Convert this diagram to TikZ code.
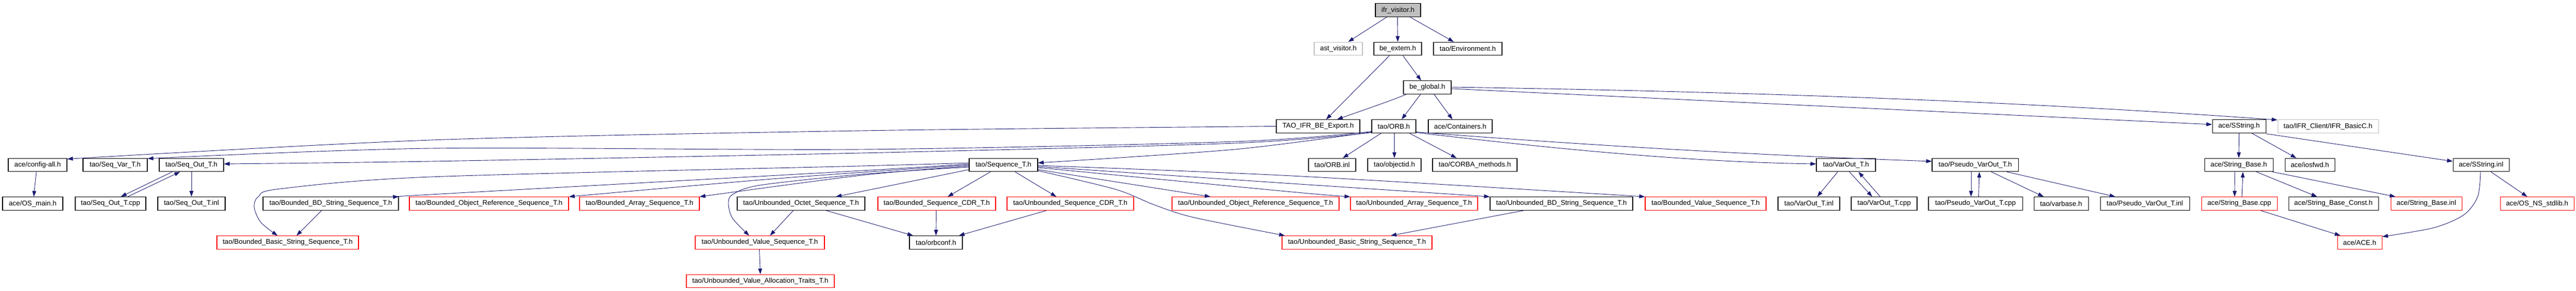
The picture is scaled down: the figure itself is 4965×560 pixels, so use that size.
\documentclass[tikz,border=0pt]{standalone}
\usepackage{fontspec}
\setmainfont{Liberation Sans}
\usetikzlibrary{arrows.meta}
\definecolor{edgecol}{HTML}{191970}
\definecolor{grayb}{HTML}{BFBFBF}
\begin{document}
\begin{tikzpicture}[x=1pt,y=-1pt,
  nd/.style={draw=black, line width=1.1pt, rectangle, minimum height=25.5pt, inner sep=0pt, font=\fontsize{13.33}{16}\selectfont},
  rnd/.style={nd, draw=red},
  gnd/.style={nd, draw=grayb},
  fnd/.style={nd, fill=grayb},
  ed/.style={draw=edgecol, line width=0.9pt, -{Triangle[length=11pt,width=7.5pt]}},
  sm/.style={smooth, tension=0.5}]
\fill[white] (0,0) rectangle (4965,560);
\useasboundingbox (0,0) rectangle (4965,560);
% row 1-4
\node[fnd, minimum width=87pt] (ifr) at (2694.5,19.5) {ifr\_visitor.h};
\node[gnd, minimum width=93pt] (ast) at (2579.5,94) {ast\_visitor.h};
\node[nd, minimum width=92pt] (bex) at (2694,94) {be\_extern.h};
\node[nd, minimum width=132pt] (env) at (2829,94) {tao/Environment.h};
\node[nd, minimum width=92pt] (bglob) at (2751,168.5) {be\_global.h};
\node[nd, minimum width=161pt] (taoifr) at (2540.5,243.5) {TAO\_IFR\_BE\_Export.h};
\node[nd, minimum width=85pt] (orb) at (2686.5,243.5) {tao/ORB.h};
\node[nd, minimum width=123pt] (cont) at (2814.5,243.5) {ace/Containers.h};
\node[nd, minimum width=103pt] (sstr) at (4315.5,243.5) {ace/SString.h};
\node[gnd, minimum width=194pt] (ifrbasic) at (4487,243.5) {tao/IFR\_Client/IFR\_BasicC.h};
% row 5
\node[nd, minimum width=113pt] (cfg) at (72.5,318) {ace/config-all.h};
\node[nd, minimum width=124pt] (seqvar) at (222,318) {tao/Seq\_Var\_T.h};
\node[nd, minimum width=124pt] (seqout) at (369,318) {tao/Seq\_Out\_T.h};
\node[nd, minimum width=132pt] (seqT) at (1934,318) {tao/Sequence\_T.h};
\node[nd, minimum width=91pt] (orbinl) at (2567.5,318) {tao/ORB.inl};
\node[nd, minimum width=103pt] (objid) at (2687.5,318) {tao/objectid.h};
\node[nd, minimum width=163pt] (corba) at (2842.5,318) {tao/CORBA\_methods.h};
\node[nd, minimum width=114pt] (varout) at (3558,318) {tao/VarOut\_T.h};
\node[nd, minimum width=166pt] (pvarout) at (3807,318) {tao/Pseudo\_VarOut\_T.h};
\node[nd, minimum width=132pt] (strbase) at (4315,318) {ace/String\_Base.h};
\node[nd, minimum width=96pt] (iosfwd) at (4452,318) {ace/iosfwd.h};
\node[nd, minimum width=108pt] (sstrinl) at (4782,318) {ace/SString.inl};
% row 6
\node[nd, minimum width=116pt] (osmain) at (63,392.5) {ace/OS\_main.h};
\node[nd, minimum width=136pt] (seqoutcpp) at (213,392.5) {tao/Seq\_Out\_T.cpp};
\node[nd, minimum width=130pt] (seqoutinl) at (369,392.5) {tao/Seq\_Out\_T.inl};
\node[nd, minimum width=261pt] (bbd) at (637.5,392.5) {tao/Bounded\_BD\_String\_Sequence\_T.h};
\node[rnd, minimum width=307pt] (bobj) at (942.5,392.5) {tao/Bounded\_Object\_Reference\_Sequence\_T.h};
\node[rnd, minimum width=231pt] (barr) at (1232.5,392.5) {tao/Bounded\_Array\_Sequence\_T.h};
\node[nd, minimum width=246pt] (uoct) at (1544,392.5) {tao/Unbounded\_Octet\_Sequence\_T.h};
\node[rnd, minimum width=227pt] (bcdr) at (1805.5,392.5) {tao/Bounded\_Sequence\_CDR\_T.h};
\node[rnd, minimum width=244pt] (ucdr) at (2063,392.5) {tao/Unbounded\_Sequence\_CDR\_T.h};
\node[rnd, minimum width=322pt] (uobj) at (2420,392.5) {tao/Unbounded\_Object\_Reference\_Sequence\_T.h};
\node[rnd, minimum width=245pt] (uarr) at (2725.5,392.5) {tao/Unbounded\_Array\_Sequence\_T.h};
\node[nd, minimum width=275pt] (ubd) at (3009.5,392.5) {tao/Unbounded\_BD\_String\_Sequence\_T.h};
\node[rnd, minimum width=233pt] (bval) at (3287.5,392.5) {tao/Bounded\_Value\_Sequence\_T.h};
\node[nd, minimum width=119pt] (varoutinl) at (3486.5,392.5) {tao/VarOut\_T.inl};
\node[nd, minimum width=127pt] (varoutcpp) at (3631.5,392.5) {tao/VarOut\_T.cpp};
\node[nd, minimum width=181pt] (pvarcpp) at (3807.5,392.5) {tao/Pseudo\_VarOut\_T.cpp};
\node[nd, minimum width=105pt] (varbase) at (3972.5,392.5) {tao/varbase.h};
\node[nd, minimum width=172pt] (pvarinl) at (4134,392.5) {tao/Pseudo\_VarOut\_T.inl};
\node[rnd, minimum width=146pt] (strbasecpp) at (4316,392.5) {ace/String\_Base.cpp};
\node[nd, minimum width=173pt] (strconst) at (4497.5,392.5) {ace/String\_Base\_Const.h};
\node[rnd, minimum width=137pt] (strbaseinl) at (4676.5,392.5) {ace/String\_Base.inl};
\node[rnd, minimum width=142pt] (osstdlib) at (4890,392.5) {ace/OS\_NS\_stdlib.h};
% row 7-8
\node[rnd, minimum width=273pt] (bbs) at (554.5,467.5) {tao/Bounded\_Basic\_String\_Sequence\_T.h};
\node[rnd, minimum width=249pt] (uvs) at (1464.5,467.5) {tao/Unbounded\_Value\_Sequence\_T.h};
\node[nd, minimum width=102pt] (orbconf) at (1804,467.5) {tao/orbconf.h};
\node[rnd, minimum width=289pt] (ubs) at (2615.5,467.5) {tao/Unbounded\_Basic\_String\_Sequence\_T.h};
\node[rnd, minimum width=86pt] (ace) at (4548,467.5) {ace/ACE.h};
\node[rnd, minimum width=285pt] (uvat) at (1465.5,542) {tao/Unbounded\_Value\_Allocation\_Traits\_T.h};
% edges top
\draw[ed] ([xshift=-21.5pt]ifr.south) -- ([xshift=19pt]ast.north);
\draw[ed] ([xshift=-1pt]ifr.south) -- (bex.north);
\draw[ed] ([xshift=23pt]ifr.south) -- ([xshift=-27pt]env.north);
\draw[ed] ([xshift=-16pt]bex.south) -- ([xshift=15.5pt]taoifr.north);
\draw[ed] ([xshift=10pt]bex.south) -- ([xshift=-12pt]bglob.north);
\draw[ed] ([xshift=-40pt]bglob.south) .. controls (2680,194) .. ([xshift=36.5pt]taoifr.north);
\draw[ed] ([xshift=-13pt]bglob.south) -- ([xshift=15pt]orb.north);
\draw[ed] ([xshift=13pt]bglob.south) -- ([xshift=-15pt]cont.north);
\draw[ed] ([yshift=0.5pt]bglob.east) .. controls (3327,176) and (3859,193) .. ([yshift=-1pt]ifrbasic.north west);
\draw[ed] ([yshift=-2.5pt]bglob.east) -- ([yshift=3.5pt]sstr.west);
% ORB
\draw[ed] ([xshift=-24.5pt]orb.south) -- ([xshift=20.5pt]orbinl.north);
\draw[ed] ([xshift=1pt]orb.south) -- (objid.north);
\draw[ed] ([xshift=30pt]orb.south) -- ([xshift=-35pt]corba.north);
\draw[ed] ([yshift=-11pt]orb.east) .. controls (3059,280) and (3382,299) .. ([yshift=7pt]pvarout.west);
\draw[ed] ([yshift=-12pt]orb.east) .. controls (2979,285) and (3245,312) .. ([yshift=2pt]varout.west);
\draw[ed] plot[sm] coordinates {([yshift=-11pt]orb.west) (2380,288) ([yshift=4pt]seqT.east)};
\draw[ed] plot[sm] coordinates {([yshift=-10pt]orb.west) (2380,273) (1660,288) (830,286) ([yshift=-1pt]seqvar.north east)};
\draw[ed] plot[sm] coordinates {([yshift=-12pt]orb.west) (2380,276) (1660,295) (830,311) ([yshift=2pt]seqout.east)};
\draw[ed] plot[sm] coordinates {(taoifr.west) (1660,252) (830,270) ([yshift=11.5pt]cfg.east)};
% Sequence_T left
\draw[ed] plot[sm] coordinates {([yshift=4pt]seqT.west) (1660,320) (830,341) (540,364) (498,379) (490,400) (503,429) ([xshift=-19.5pt]bbs.north)};
\draw[ed] plot[sm] coordinates {([yshift=2pt]seqT.west) (1660,329) (830,375) (bbd.north east)};
\draw[ed] plot[sm] coordinates {(seqT.west) (1500,344) (bobj.north east)};
\draw[ed] plot[sm] coordinates {([yshift=-2pt]seqT.west) (1660,338) (barr.north east)};
\draw[ed] plot[sm] coordinates {([yshift=-4pt]seqT.west) (1660,336) (1465,357) (1412,375) (1404,393) (1412,421) ([xshift=-20.5pt]uvs.north)};
\draw[ed] ([yshift=-9pt]seqT.west) -- ([xshift=67pt]uoct.north);
\draw[ed] ([xshift=-25pt]seqT.south) -- ([xshift=21pt]bcdr.north);
\draw[ed] ([xshift=22.5pt]seqT.south) -- ([xshift=-27pt]ucdr.north);
% Sequence_T right
\draw[ed] ([yshift=-9pt]seqT.east) -- ([xshift=-87pt]uobj.north);
\draw[ed] plot[sm] coordinates {([yshift=-11pt]seqT.east) (2150,365) (2225,395) (2300,419) ([xshift=6pt]ubs.north west)};
\draw[ed] plot[sm] coordinates {([yshift=-5pt]seqT.east) (2490,370) (uarr.north west)};
\draw[ed] plot[sm] coordinates {([yshift=-3pt]seqT.east) (2490,354) (ubd.north west)};
\draw[ed] plot[sm] coordinates {([yshift=-1pt]seqT.east) (2490,339) (bval.north west)};
% lower rows
\draw[ed] ([xshift=-15pt]uoct.south) -- ([xshift=19.5pt]uvs.north);
\draw[ed] ([xshift=48pt]uoct.south) -- ([xshift=-44pt]orbconf.north);
\draw[ed] ([xshift=-1pt]bcdr.south) -- (orbconf.north);
\draw[ed] ([xshift=-46pt]ucdr.south) -- ([xshift=44pt]orbconf.north);
\draw[ed] ([xshift=-17.5pt]bbd.south) -- ([xshift=17pt]bbs.north);
\draw[ed] ([xshift=-72.5pt]ubd.south) -- ([xshift=65pt]ubs.north);
\draw[ed] ([xshift=-1pt]uvs.south) -- (uvat.north);
\draw[ed] ([xshift=-2.5pt]cfg.south) -- ([xshift=2pt]osmain.north);
\draw[ed] ([xshift=-37pt]seqout.south) -- ([xshift=20pt]seqoutcpp.north);
\draw[ed] ([xshift=33pt]seqoutcpp.north) -- ([xshift=-22pt]seqout.south);
\draw[ed] (seqout.south) -- (seqoutinl.north);
\draw[ed] ([xshift=-16pt]varout.south) -- ([xshift=16pt]varoutinl.north);
\draw[ed] ([xshift=6.5pt]varout.south) -- ([xshift=-23pt]varoutcpp.north);
\draw[ed] ([xshift=-7.5pt]varoutcpp.north) -- ([xshift=24pt]varout.south);
\draw[ed] ([xshift=-8pt]pvarout.south) -- ([xshift=-8.5pt]pvarcpp.north);
\draw[ed] ([xshift=6pt]pvarcpp.north) -- ([xshift=8pt]pvarout.south);
\draw[ed] ([xshift=31pt]pvarout.south) -- ([xshift=-33.5pt]varbase.north);
\draw[ed] ([xshift=61pt]pvarout.south) -- ([xshift=-57pt]pvarinl.north);
\draw[ed] (sstr.south) -- (strbase.north);
\draw[ed] ([xshift=24.5pt]sstr.south) -- ([xshift=-26pt]iosfwd.north);
\draw[ed] ([yshift=-1pt]sstr.south east) -- ([yshift=7pt]sstrinl.west);
\draw[ed] ([xshift=-7.5pt]strbase.south) -- ([xshift=-9pt]strbasecpp.north);
\draw[ed] ([xshift=5pt]strbasecpp.north) -- ([xshift=8pt]strbase.south);
\draw[ed] ([xshift=34pt]strbase.south) -- ([xshift=-31.5pt]strconst.north);
\draw[ed] ([xshift=65pt]strbase.south) -- ([xshift=-59.5pt]strbaseinl.north);
\draw[ed] ([xshift=41pt]strbasecpp.south) -- ([xshift=-37pt]ace.north);
\draw[ed] plot[sm] coordinates {([xshift=-1pt]sstrinl.south) (4775.5,379) (4749,414) (4691,439) ([yshift=-2pt]ace.north east)};
\draw[ed] ([xshift=19pt]sstrinl.south) -- ([xshift=-19pt]osstdlib.north);
\end{tikzpicture}
\end{document}
